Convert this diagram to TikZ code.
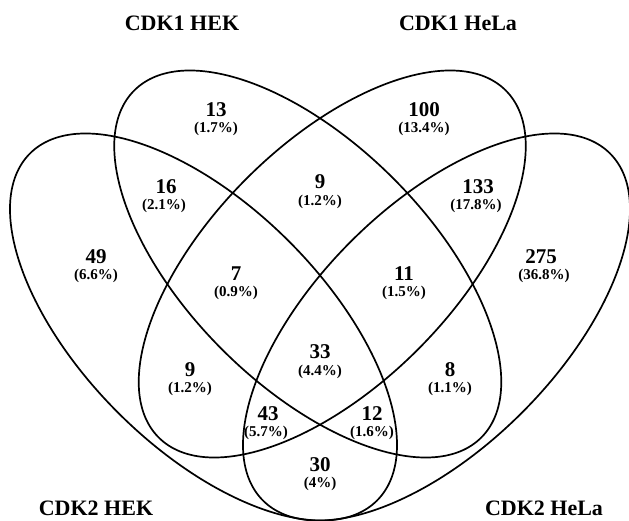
\documentclass[tikz,border=0pt]{standalone}
\usepackage{fontspec}
\setmainfont{Liberation Serif}
\begin{document}
\begin{tikzpicture}[x=1pt,y=1pt,
  set/.style={line width=1.7pt, draw=black},
  count/.style={font=\fontsize{21}{21}\selectfont\bfseries, inner sep=0pt},
  share/.style={font=\fontsize{15}{15}\selectfont\bfseries, inner sep=0pt},
  setname/.style={font=\fontsize{22}{22}\selectfont\bfseries, inner sep=0pt}]
\useasboundingbox (0,0) rectangle (629,520);
\fill[white] (0,0) rectangle (629,520);

% centres of the four sets
\coordinate (hek1)  at (307.75,256);
\coordinate (hela1) at (332.25,256);
\coordinate (hek2)  at (203.5,193);
\coordinate (hela2) at (436.5,193);

% the four congruent ellipses
\draw[set, rotate around={-45:(hek1)}]  (hek1)  ellipse [x radius=245.4pt, y radius=121pt];
\draw[set, rotate around={45:(hela1)}]  (hela1) ellipse [x radius=245.4pt, y radius=121pt];
\draw[set, rotate around={-45:(hek2)}]  (hek2)  ellipse [x radius=245.4pt, y radius=121pt];
\draw[set, rotate around={45:(hela2)}]  (hela2) ellipse [x radius=245.4pt, y radius=121pt];

% set names
\node[setname] (tHEK1)  at (182,497) {CDK1 HEK};
\node[setname] (tHeLa1) at (458,497) {CDK1 HeLa};
\node[setname] (tHEK2)  at (96,12)   {CDK2 HEK};
\node[setname] (tHeLa2) at (544,12)  {CDK2 HeLa};

% region counts
\node[count] (c13)  at (216,410) {13};   \node[share] (s13)  at (216,391) {(1.7\%)};
\node[count] (c100) at (424,410) {100};  \node[share] (s100) at (424,391) {(13.4\%)};
\node[count] (c16)  at (166,333) {16};   \node[share] (s16)  at (164,314) {(2.1\%)};
\node[count] (c9a)  at (320,338) {9};    \node[share] (s9a)  at (320,318) {(1.2\%)};
\node[count] (c133) at (478,333) {133};  \node[share] (s133) at (476,314) {(17.8\%)};
\node[count] (c49)  at (96,263)  {49};   \node[share] (s49)  at (96,244)  {(6.6\%)};
\node[count] (c275) at (541,263) {275};  \node[share] (s275) at (544,244) {(36.8\%)};
\node[count] (c7)   at (236,246) {7};    \node[share] (s7)   at (236,227) {(0.9\%)};
\node[count] (c11)  at (404,246) {11};   \node[share] (s11)  at (404,227) {(1.5\%)};
\node[count] (c33)  at (320,168) {33};   \node[share] (s33)  at (320,148) {(4.4\%)};
\node[count] (c9b)  at (190,150) {9};    \node[share] (s9b)  at (190,131) {(1.2\%)};
\node[count] (c8)   at (450,150) {8};    \node[share] (s8)   at (450,131) {(1.1\%)};
\node[count] (c43)  at (268,106) {43};   \node[share] (s43)  at (266,87)  {(5.7\%)};
\node[count] (c12)  at (372,106) {12};   \node[share] (s12)  at (372,87)  {(1.6\%)};
\node[count] (c30)  at (320,55)  {30};   \node[share] (s30)  at (320,36)  {(4\%)};
\end{tikzpicture}
\end{document}
